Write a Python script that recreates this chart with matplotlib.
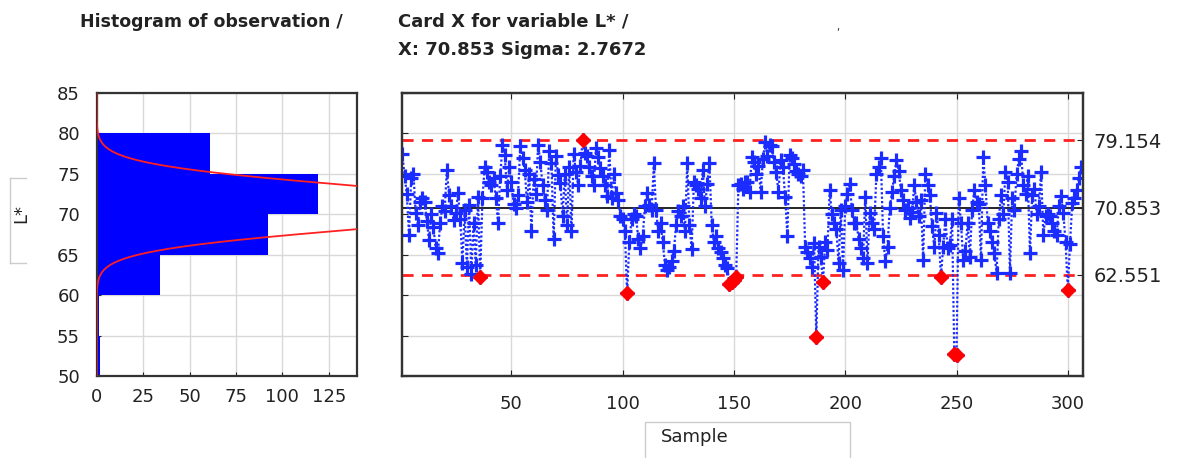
import numpy as np
import matplotlib
matplotlib.use("Agg")
import matplotlib.pyplot as plt
from matplotlib.patches import Rectangle
from matplotlib.lines import Line2D

# histogram of observation (L* classes)
bin_edges = [50, 55, 60, 65, 70, 75, 80]
bin_counts = [2, 1, 34, 92, 119, 61]

# L* per sample (samples 1..306)
l_values = [
    77.5, 74.8, 72.5, 67.5, 74.5, 75.0, 70.2, 68.7, 71.5, 72.0,
    71.6, 69.2, 66.8, 70.0, 68.4, 65.8, 65.2, 69.0, 71.0, 70.4,
    75.5, 72.4, 71.0, 69.3, 70.2, 72.6, 69.5, 64.0, 70.5, 63.5,
    71.2, 62.7, 69.0, 63.8, 72.2, 62.3, 72.0, 75.9, 75.3, 74.0,
    73.6, 74.5, 72.0, 69.0, 74.8, 78.6, 77.4, 73.0, 75.8, 74.0,
    71.3, 70.8, 72.4, 78.5, 77.0, 75.5, 71.5, 75.0, 67.9, 74.4,
    72.5, 78.6, 76.5, 73.6, 71.8, 70.6, 77.8, 76.3, 67.0, 77.2,
    74.9, 73.9, 69.8, 75.0, 68.7, 75.8, 67.9, 77.5, 75.3, 73.6,
    76.0, 79.2, 77.6, 77.2, 75.8, 74.8, 73.6, 78.2, 77.1, 75.7,
    74.8, 73.6, 72.3, 78.0, 72.0, 75.0, 72.6, 71.8, 69.8, 69.5,
    67.9, 60.3, 66.6, 69.5, 70.0, 69.8, 67.0, 65.8, 67.3, 71.0,
    72.6, 71.2, 70.5, 76.3, 70.5, 67.9, 69.0, 66.6, 63.8, 63.2,
    63.5, 64.2, 65.5, 68.7, 70.4, 69.8, 71.0, 67.9, 76.3, 68.7,
    65.7, 74.0, 73.6, 73.1, 72.0, 75.5, 71.0, 73.8, 76.3, 68.7,
    66.6, 67.3, 65.8, 65.4, 64.6, 63.8, 63.4, 61.4, 61.7, 61.9,
    62.3, 73.6, 73.8, 73.2, 74.0, 74.0, 72.8, 77.1, 76.5, 75.0,
    76.0, 72.8, 76.8, 78.9, 77.2, 78.6, 78.4, 76.5, 75.2, 72.8,
    76.7, 75.8, 72.2, 67.4, 77.4, 77.0, 76.2, 75.4, 75.0, 74.8,
    75.5, 66.0, 65.4, 64.6, 63.5, 66.5, 54.9, 66.0, 64.8, 61.7,
    66.6, 65.6, 73.0, 70.0, 69.0, 68.2, 64.0, 70.5, 63.2, 71.0,
    72.5, 73.8, 70.6, 69.0, 69.0, 67.0, 65.8, 64.6, 72.2, 64.0,
    70.2, 69.0, 68.2, 75.0, 75.8, 77.0, 67.4, 64.2, 66.0, 70.8,
    72.8, 74.8, 76.7, 75.4, 73.0, 71.8, 70.5, 70.8, 69.6, 70.3,
    73.6, 71.5, 69.8, 71.8, 64.4, 75.0, 73.6, 72.4, 68.6, 66.0,
    70.2, 67.5, 62.3, 66.0, 69.5, 65.8, 66.2, 69.5, 52.8, 52.7,
    72.0, 69.0, 64.4, 65.5, 69.0, 64.8, 70.5, 73.0, 71.5, 71.3,
    64.4, 77.1, 73.6, 69.0, 67.9, 66.6, 65.2, 62.8, 69.5, 72.4,
    70.0, 75.3, 74.0, 62.8, 72.0, 70.5, 75.0, 76.8, 77.8, 73.6,
    72.5, 74.8, 65.2, 72.4, 73.2, 70.0, 71.0, 75.3, 67.5, 69.8,
    70.0, 69.8, 69.0, 68.0, 67.5, 71.0, 72.3, 70.2, 66.6, 60.7,
    66.4, 71.4, 72.0, 73.0, 74.5, 75.8,
]

x_mean = 70.853
sigma = 2.7672
ucl = 79.154
lcl = 62.551
fit_sd = 2.7  # spread of the normal curve drawn over the histogram

plt.rcParams["font.family"] = ["DejaVu Sans"]
TXT = "#222222"
GRID = "#d9d9d9"

fig = plt.figure(figsize=(12.01, 4.58), dpi=100)

# ---- histogram ----
ax1 = fig.add_axes([0.0805, 0.178, 0.2165, 0.619])
centers = [(a + b) / 2 for a, b in zip(bin_edges[:-1], bin_edges[1:])]
ax1.barh(centers, bin_counts, height=5, color="#0000ff", linewidth=0, zorder=2)

n_total = sum(bin_counts)
yy = np.linspace(50, 85, 400)
curve = n_total * 5 * np.exp(-0.5 * ((yy - x_mean) / fit_sd) ** 2) / (fit_sd * np.sqrt(2 * np.pi))
ax1.plot(curve, yy, color="#ff2020", lw=1.3, zorder=3)

ax1.set_xlim(0, 140)
ax1.set_ylim(50, 85)
ax1.set_xticks([0, 25, 50, 75, 100, 125])
ax1.set_yticks(range(50, 86, 5))
ax1.grid(True, color=GRID, lw=1, zorder=0)
ax1.set_axisbelow(True)
ax1.tick_params(direction="in", length=3, labelsize=13, colors=TXT)
ax1.tick_params(axis="x", pad=8)
ax1.tick_params(axis="y", pad=12)

# ---- X card ----
ax2 = fig.add_axes([0.335, 0.178, 0.5665, 0.619])
samples = np.arange(1, len(l_values) + 1)
vals = np.array(l_values)
ax2.plot(samples, vals, color="#1a2cff", lw=1.6, ls=(0, (1, 1)), marker="+",
         ms=10, mew=2.3, zorder=3)
out = (vals > ucl) | (vals < lcl)
ax2.plot(samples[out], vals[out], ls="none", marker="D", ms=7,
         color="#ff0000", zorder=4)

ax2.axhline(x_mean, color="black", lw=1.2, zorder=2)
for lim in (ucl, lcl):
    ax2.axhline(lim, color="#ff2020", lw=2, ls=(0, (4, 3)), zorder=2)

ax2.set_xlim(1, 306.7)
ax2.set_ylim(50, 85)
ax2.set_xticks([50, 100, 150, 200, 250, 300])
ax2.set_yticks(range(50, 86, 5))
ax2.set_yticklabels([])
ax2.grid(True, color=GRID, lw=1, zorder=0)
ax2.set_axisbelow(True)
ax2.tick_params(direction="in", length=4, labelsize=13, colors=TXT,
                top=True, right=True, pad=13)

ax2r = ax2.twinx()
ax2r.set_ylim(50, 85)
ax2r.set_yticks([ucl, x_mean, lcl])
ax2r.set_yticklabels([f"{v:.3f}" for v in (ucl, x_mean, lcl)])
ax2r.tick_params(direction="in", length=4, labelsize=14, colors=TXT, pad=8)

for ax in (ax1, ax2, ax2r):
    for sp in ax.spines.values():
        sp.set_color("#333333")
        sp.set_linewidth(1.6)

# ---- texts ----
fig.text(0.0665, 0.952, "Histogram of observation /", fontsize=12.5,
         fontweight="bold", color=TXT, va="center")
fig.text(0.331, 0.952, "Card X for variable L* /", fontsize=13,
         fontweight="bold", color=TXT, va="center")
fig.text(0.331, 0.891, "X: 70.853 Sigma: 2.7672", fontsize=13,
         fontweight="bold", color=TXT, va="center")
fig.text(0.696, 0.935, ",", fontsize=7, color=TXT)

# L* label in its bracket box
fig.text(0.018, 0.533, "L*", fontsize=13, rotation=90, color=TXT,
         ha="center", va="center")
box_c = "#cccccc"
fig.add_artist(Line2D([0.0085, 0.022], [0.611, 0.611], color=box_c, lw=1))
fig.add_artist(Line2D([0.0085, 0.0085], [0.611, 0.426], color=box_c, lw=1))
fig.add_artist(Line2D([0.0085, 0.022], [0.426, 0.426], color=box_c, lw=1))

# Sample label box
fig.add_artist(Rectangle((0.537, -0.05), 0.171, 0.128, transform=fig.transFigure,
                         fill=False, edgecolor=box_c, lw=1))
fig.text(0.55, 0.046, "Sample", fontsize=13, color=TXT, va="center")

fig.savefig("out.png", dpi=100)
